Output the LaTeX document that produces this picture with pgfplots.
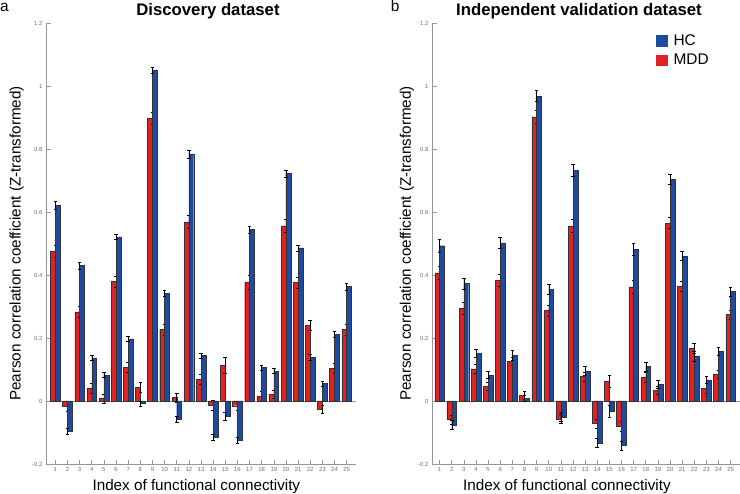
\documentclass[border=0pt]{standalone}
\usepackage{fontspec}
\setmainfont{Liberation Sans}
\usepackage{pgfplots}
\usepackage{pgfplotstable}
\pgfplotsset{compat=1.18}
\definecolor{mddred}{RGB}{226,34,34}
\definecolor{hcblue}{RGB}{30,75,160}
\definecolor{axgray}{RGB}{150,150,150}
\definecolor{lblgray}{RGB}{110,110,110}

\pgfplotstableread{
x mdd mdde hc hce
1 0.476 0.020 0.622 0.012
2 -0.017 0.015 -0.096 0.008
3 0.283 0.018 0.430 0.012
4 0.041 0.015 0.137 0.008
5 0.008 0.015 0.082 0.008
6 0.379 0.018 0.521 0.008
7 0.107 0.015 0.197 0.008
8 0.044 0.015 -0.008 0.008
9 0.898 0.020 1.051 0.010
10 0.227 0.018 0.342 0.010
11 0.011 0.015 -0.059 0.010
12 0.569 0.020 0.783 0.012
13 0.069 0.015 0.145 0.008
14 -0.013 0.015 -0.115 0.010
15 0.114 0.025 -0.048 0.012
16 -0.015 0.015 -0.125 0.010
17 0.378 0.022 0.544 0.012
18 0.015 0.015 0.107 0.008
19 0.022 0.013 0.095 0.008
20 0.556 0.020 0.722 0.012
21 0.376 0.018 0.486 0.010
22 0.240 0.016 0.138 0.010
23 -0.027 0.013 0.055 0.008
24 0.104 0.016 0.212 0.010
25 0.227 0.018 0.363 0.010
}\disc

\pgfplotstableread{
x mdd mdde hc hce
1 0.407 0.022 0.493 0.020
2 -0.059 0.015 -0.076 0.014
3 0.294 0.018 0.373 0.018
4 0.102 0.014 0.152 0.012
5 0.047 0.013 0.083 0.012
6 0.383 0.020 0.502 0.018
7 0.126 0.014 0.145 0.016
8 0.019 0.012 0.009 0.010
9 0.902 0.020 0.968 0.018
10 0.287 0.018 0.354 0.016
11 -0.057 0.015 -0.051 0.014
12 0.556 0.020 0.733 0.020
13 0.078 0.014 0.096 0.013
14 -0.072 0.015 -0.133 0.014
15 0.063 0.018 -0.033 0.018
16 -0.080 0.015 -0.141 0.014
17 0.362 0.020 0.482 0.018
18 0.075 0.016 0.109 0.014
19 0.034 0.013 0.053 0.012
20 0.565 0.018 0.703 0.016
21 0.365 0.016 0.460 0.014
22 0.167 0.016 0.143 0.016
23 0.040 0.015 0.067 0.012
24 0.085 0.013 0.158 0.014
25 0.274 0.014 0.348 0.014
}\valid

\pgfplotsset{
  panel/.style={
    scale only axis,
    height=441bp,
    ymin=-0.2, ymax=1.2,
    ytick={-0.2,0,0.2,0.4,0.6,0.8,1,1.2},
    yticklabels={-0.2,0,0.2,0.4,0.6,0.8,1,1.2},
    xtick={1,...,25},
    axis x line*=bottom, axis y line*=left,
    axis line style={axgray, line width=0.8pt, -},
    tick style={axgray, line width=0.6pt},
    major tick length=4.5bp,
    tick align=inside,
    tick label style={font=\fontsize{6}{7}\selectfont, text=lblgray},
    /pgf/number format/assume math mode=true,
    extra y ticks={0}, extra y tick labels={},
    extra y tick style={grid=major, grid style={axgray, line width=0.8pt}},
    xlabel={Index of functional connectivity},
    ylabel={Pearson correlation coefficient (Z-transformed)},
    label style={font=\fontsize{15.3}{17}\selectfont},
    clip=false,
  },
  redbar/.style={ybar, bar width=0.4, bar shift=-0.2, fill=mddred, draw=black!80, line width=0.4pt,
    error bars/.cd, y dir=both, y explicit,
    error bar style={black, line width=0.5pt},
    error mark options={rotate=90, mark size=1.8bp, black, line width=0.5pt},
    /pgfplots/.cd},
  bluebar/.style={ybar, bar width=0.4, bar shift=0.2, fill=hcblue, draw=black!80, line width=0.4pt,
    error bars/.cd, y dir=both, y explicit,
    error bar style={black, line width=0.5pt},
    error mark options={rotate=90, mark size=1.8bp, black, line width=0.5pt},
    /pgfplots/.cd},
}

\begin{document}
\begin{tikzpicture}
\path[use as bounding box] (0,0) rectangle (740bp,494bp);

\begin{axis}[panel,
  at={(46bp,30bp)}, anchor=south west,
  width=310bp, xmin=0.23, xmax=25.77,
  xlabel style={at={(axis description cs:0.485,-0.0605)}, anchor=base},
  ylabel style={at={(axis description cs:-0.0816,0.5)}, anchor=base},
]
\addplot[redbar] table[x=x, y=mdd, y error=mdde] {\disc};
\addplot[bluebar] table[x=x, y=hc, y error=hce] {\disc};
\end{axis}

\begin{axis}[panel,
  at={(432bp,30bp)}, anchor=south west,
  width=308bp, xmin=0.37, xmax=25.77,
  xlabel style={at={(axis description cs:0.438,-0.0605)}, anchor=base},
  ylabel style={at={(axis description cs:-0.069,0.5)}, anchor=base},
  legend style={at={(axis description cs:0.727,0.978)}, anchor=north west,
    draw=none, fill=none, inner sep=0pt, row sep=3bp,
    font=\fontsize{15.5}{17}\selectfont},
  legend cell align=left,
]
\addlegendimage{legend image code/.code={\fill[hcblue] (0bp,-5bp) rectangle (10.5bp,5.5bp); \path (15bp,0bp);}}
\addlegendentry{HC}
\addlegendimage{legend image code/.code={\fill[mddred] (0bp,-5bp) rectangle (10.5bp,5.5bp); \path (15bp,0bp);}}
\addlegendentry{MDD}
\addplot[forget plot, redbar] table[x=x, y=mdd, y error=mdde] {\valid};
\addplot[forget plot, bluebar] table[x=x, y=hc, y error=hce] {\valid};
\end{axis}

\node[anchor=base, inner sep=0pt, font=\bfseries\fontsize{16.8}{19}\selectfont] at (208bp,478bp) {Discovery dataset};
\node[anchor=base, inner sep=0pt, font=\bfseries\fontsize{16.8}{19}\selectfont] at (579bp,478bp) {Independent validation dataset};
\node[anchor=base west, inner sep=0pt, font=\fontsize{15.5}{17}\selectfont] at (0bp,482bp) {a};
\node[anchor=base west, inner sep=0pt, font=\fontsize{15.5}{17}\selectfont] at (390.7bp,482bp) {b};
\end{tikzpicture}
\end{document}
